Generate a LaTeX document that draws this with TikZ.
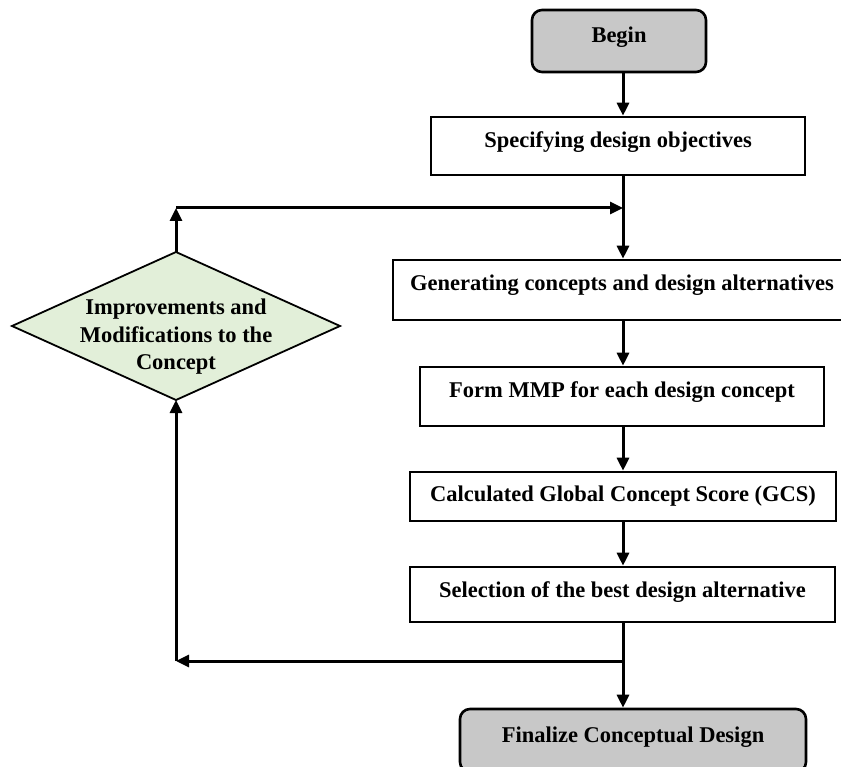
\documentclass[tikz,border=0pt]{standalone}
\usepackage{fontspec}
\setmainfont{Liberation Serif}
\usetikzlibrary{arrows.meta,calc}
\definecolor{termgray}{HTML}{C8C8C8}
\definecolor{diagreen}{HTML}{E2EFD9}
\begin{document}
\begin{tikzpicture}[x=1pt,y=-1pt,
  every node/.style={font=\fontsize{22.5}{26}\selectfont\bfseries},
  procbox/.style={draw,line width=2.6pt,inner xsep=0pt,inner ysep=0pt,fill=white},
  termbox/.style={procbox,fill=termgray,rounded corners=10pt},
  arr/.style={line width=3pt,-{Triangle[length=13pt,width=12pt]}},
  ln/.style={line width=3pt}]
\useasboundingbox (0,0) rectangle (841,767);
\coordinate (s) at (623,0);
\node[termbox,minimum width=174pt,text height=33pt,text depth=29pt] (begin) at (619,41) {Begin};
\node[procbox,minimum width=374pt,text height=31pt,text depth=27pt] (spec) at (618,146) {Specifying design objectives};
\node[procbox,minimum width=458pt,text height=31pt,text depth=29pt] (gen) at (622,290) {Generating concepts and design alternatives};
\node[procbox,minimum width=404pt,text height=30pt,text depth=29pt] (mmp) at (622,396.5) {Form MMP for each design concept};
\node[procbox,minimum width=426pt,text height=29pt,text depth=20pt] (gcs) at (623,496.5) {Calculated Global Concept Score (GCS)};
\node[procbox,minimum width=425pt,text height=30pt,text depth=25pt] (sel) at (622.5,594.5) {Selection of the best design alternative};
\node[termbox,minimum width=346pt,text height=33pt,text depth=30pt] (fin) at (633,740.5) {Finalize Conceptual Design};
% diamond
\coordinate (dl) at (12,326);
\coordinate (dr) at (340,326);
\coordinate (dtop) at (176,252);
\coordinate (dbot) at (176,400);
\draw[fill=diagreen,line width=1.8pt,line join=miter] (dl) -- (dtop) -- (dr) -- (dbot) -- cycle;
\node[align=center,font=\fontsize{22.5}{27.5}\selectfont\bfseries] (dtext) at (176,337) {Improvements and\\Modifications to the\\Concept};
% spine
\coordinate (jtop) at (623,208);
\coordinate (jbot) at (623,661);
\coordinate (ctop) at (176,208);
\coordinate (cbot) at (176,661);
\draw[arr] (begin.south -| s) -- (spec.north -| s);
\draw[arr] (spec.south -| s) -- (gen.north -| s);
\draw[arr] (gen.south -| s) -- (mmp.north -| s);
\draw[arr] (mmp.south -| s) -- (gcs.north -| s);
\draw[arr] (gcs.south -| s) -- (sel.north -| s);
\draw[arr] (sel.south -| s) -- (fin.north -| s);
% loop
\draw[arr] (jbot) -- (cbot);
\draw[arr] (cbot) -- (dbot);
\draw[arr] (dtop) -- (ctop);
\draw[arr] (ctop) -- (jtop);
\end{tikzpicture}
\end{document}
